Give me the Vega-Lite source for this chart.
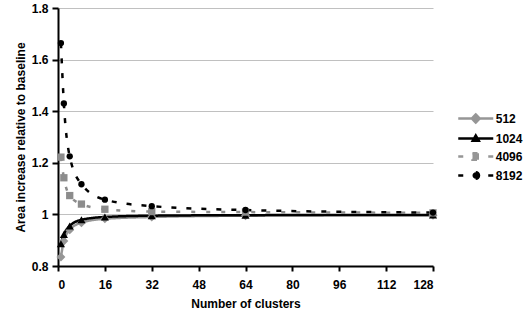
{
  "$schema": "https://vega.github.io/schema/vega-lite/v6.json",
  "width": 375,
  "height": 258,
  "autosize": {"type": "none"},
  "padding": {"left": 58, "top": 8, "right": 91, "bottom": 54},
  "background": "white",
  "config": {
    "view": {"stroke": null},
    "font": "Liberation Sans",
    "axis": {"labelFont": "Liberation Sans", "titleFont": "Liberation Sans", "labelFontWeight": "bold", "titleFontWeight": "bold", "labelColor": "black", "titleColor": "black", "domainColor": "black", "tickColor": "black", "domainWidth": 2, "tickWidth": 2, "labelFontSize": 12, "titleFontSize": 12}
  },
  "data": {"values": [
    {"clusters": 1, "size": "512", "area": 0.835},
    {"clusters": 2, "size": "512", "area": 0.897},
    {"clusters": 4, "size": "512", "area": 0.94},
    {"clusters": 8, "size": "512", "area": 0.968},
    {"clusters": 16, "size": "512", "area": 0.983},
    {"clusters": 32, "size": "512", "area": 0.99},
    {"clusters": 64, "size": "512", "area": 0.995},
    {"clusters": 128, "size": "512", "area": 0.997},
    {"clusters": 1, "size": "1024", "area": 0.886},
    {"clusters": 2, "size": "1024", "area": 0.922},
    {"clusters": 4, "size": "1024", "area": 0.955},
    {"clusters": 8, "size": "1024", "area": 0.979},
    {"clusters": 16, "size": "1024", "area": 0.99},
    {"clusters": 32, "size": "1024", "area": 0.995},
    {"clusters": 64, "size": "1024", "area": 0.997},
    {"clusters": 128, "size": "1024", "area": 0.998},
    {"clusters": 1, "size": "4096", "area": 1.222},
    {"clusters": 2, "size": "4096", "area": 1.142},
    {"clusters": 4, "size": "4096", "area": 1.073},
    {"clusters": 8, "size": "4096", "area": 1.04},
    {"clusters": 16, "size": "4096", "area": 1.02},
    {"clusters": 32, "size": "4096", "area": 1.011},
    {"clusters": 64, "size": "4096", "area": 1.009},
    {"clusters": 128, "size": "4096", "area": 1.006},
    {"clusters": 1, "size": "8192", "area": 1.664},
    {"clusters": 2, "size": "8192", "area": 1.43},
    {"clusters": 4, "size": "8192", "area": 1.225},
    {"clusters": 8, "size": "8192", "area": 1.117},
    {"clusters": 16, "size": "8192", "area": 1.057},
    {"clusters": 32, "size": "8192", "area": 1.032},
    {"clusters": 64, "size": "8192", "area": 1.017},
    {"clusters": 128, "size": "8192", "area": 1.007}
  ]},
  "encoding": {
    "x": {"field": "clusters", "type": "quantitative", "scale": {"domain": [0, 128], "nice": false},
          "axis": {"values": [0, 16, 32, 48, 64, 80, 96, 112, 128], "title": "Number of clusters", "grid": false, "tickSize": 5, "labelPadding": 8, "titlePadding": 8}},
    "y": {"field": "area", "type": "quantitative", "scale": {"domain": [0.8, 1.8], "nice": false, "zero": false},
          "axis": {"values": [0.8, 1, 1.2, 1.4, 1.6, 1.8], "format": "~g", "title": "Area increase relative to baseline", "grid": true, "gridColor": "#c0c0c0", "gridWidth": 1, "tickSize": 6, "labelPadding": 4, "titlePadding": 4}}
  },
  "layer": [
    {
      "mark": {"type": "line", "interpolate": "monotone", "strokeWidth": 2.5},
      "encoding": {
        "color": {"field": "size", "type": "nominal", "legend": null,
                  "scale": {"domain": ["512", "1024", "4096", "8192"], "range": ["#969696", "#000000", "#8c8c8c", "#000000"]}},
        "strokeDash": {"field": "size", "type": "nominal", "legend": null,
                       "scale": {"domain": ["512", "1024", "4096", "8192"], "range": [[1, 0], [1, 0], [4, 11], [5, 10]]}}
      }
    },
    {
      "mark": {"type": "point", "filled": true, "opacity": 1},
      "encoding": {
        "color": {"field": "size", "type": "nominal", "legend": null},
        "size": {"field": "size", "type": "nominal", "legend": null,
                 "scale": {"domain": ["512", "1024", "4096", "8192"], "range": [80, 40, 64, 55]}},
        "shape": {"field": "size", "type": "nominal", "legend": null,
                  "scale": {"domain": ["512", "1024", "4096", "8192"], "range": ["diamond", "triangle-up", "square", "circle"]}}
      }
    },
    {
      "transform": [{"filter": "false"}],
      "mark": {"type": "point", "filled": true, "opacity": 1},
      "encoding": {
        "shape": {"field": "size", "type": "nominal",
                  "scale": {"domain": ["512", "1024", "4096", "8192"],
                            "range": ["M-3.5,0H3.5M0,-0.8L0.8,0L0,0.8L-0.8,0Z", "M-3.5,0H3.5M0,-0.6L0.6,0.45L-0.6,0.45Z", "M-3.5,0H3.5M-0.65,-0.65H0.65V0.65H-0.65Z", "M-3.5,0H3.5M0.65,0A0.65,0.65,0,1,1,-0.65,0A0.65,0.65,0,1,1,0.65,0Z"]},
                  "legend": {
                    "title": null, "orient": "none", "legendX": 411.25, "legendY": 104, "padding": 0,
                    "labelFont": "Liberation Sans", "labelFontWeight": "bold", "labelFontSize": 12, "labelColor": "black",
                    "labelOffset": 13.5, "rowPadding": 2, "symbolSize": 100,
                    "encoding": {"symbols": {
                      "fill": {"condition": {"test": "datum.value === '512' || datum.value === '4096'", "value": "#969696"}, "value": "#000000"},
                      "stroke": {"condition": {"test": "datum.value === '512' || datum.value === '4096'", "value": "#969696"}, "value": "#000000"},
                      "strokeDash": {"condition": {"test": "datum.value === '4096' || datum.value === '8192'", "value": [5, 10]}, "value": [1, 0]},
                      "strokeWidth": {"value": 2.5},
                      "size": {"value": 100},
                      "opacity": {"value": 1}
                    }}
                  }}
      }
    }
  ],
  "resolve": {"scale": {"shape": "independent"}, "legend": {"shape": "independent"}}
}
